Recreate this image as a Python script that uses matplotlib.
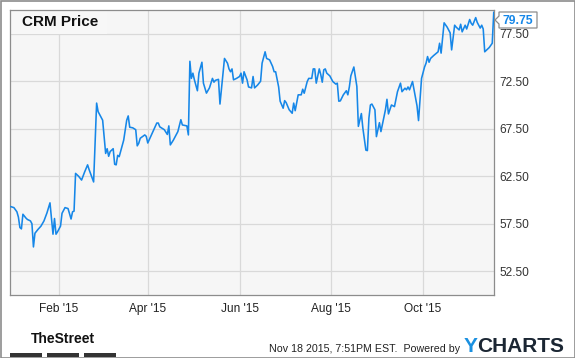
import matplotlib
matplotlib.use("Agg")
import matplotlib.pyplot as plt
from matplotlib.patches import Polygon, Rectangle
import pandas as pd

title = "CRM Price"
last_label = "79.75"
dates = [
    "2014-12-31", "2015-01-02", "2015-01-04", "2015-01-05", "2015-01-06", "2015-01-07",
    "2015-01-08", "2015-01-10", "2015-01-11", "2015-01-13", "2015-01-14", "2015-01-15",
    "2015-01-16", "2015-01-18", "2015-01-20", "2015-01-22", "2015-01-24", "2015-01-26",
    "2015-01-28", "2015-01-29", "2015-01-30", "2015-01-31", "2015-02-02", "2015-02-03",
    "2015-02-05", "2015-02-07", "2015-02-09", "2015-02-10", "2015-02-11", "2015-02-12",
    "2015-02-14", "2015-02-16", "2015-02-18", "2015-02-20", "2015-02-21", "2015-02-24",
    "2015-02-26", "2015-02-27", "2015-03-02", "2015-03-04", "2015-03-05", "2015-03-06",
    "2015-03-07", "2015-03-09", "2015-03-10", "2015-03-11", "2015-03-12", "2015-03-13",
    "2015-03-16", "2015-03-18", "2015-03-19", "2015-03-20", "2015-03-22", "2015-03-24",
    "2015-03-25", "2015-03-26", "2015-03-27", "2015-03-30", "2015-03-31", "2015-04-01",
    "2015-04-03", "2015-04-05", "2015-04-07", "2015-04-08", "2015-04-09", "2015-04-12",
    "2015-04-14", "2015-04-15", "2015-04-16", "2015-04-18", "2015-04-21", "2015-04-23",
    "2015-04-24", "2015-04-27", "2015-04-28", "2015-04-29", "2015-04-30", "2015-05-01",
    "2015-05-02", "2015-05-04", "2015-05-05", "2015-05-07", "2015-05-08", "2015-05-10",
    "2015-05-12", "2015-05-14", "2015-05-15", "2015-05-16", "2015-05-18", "2015-05-19",
    "2015-05-22", "2015-05-24", "2015-05-25", "2015-05-26", "2015-05-27", "2015-05-28",
    "2015-05-30", "2015-06-01", "2015-06-02", "2015-06-03", "2015-06-04", "2015-06-06",
    "2015-06-07", "2015-06-09", "2015-06-10", "2015-06-11", "2015-06-13", "2015-06-15",
    "2015-06-16", "2015-06-18", "2015-06-19", "2015-06-21", "2015-06-23", "2015-06-24",
    "2015-06-25", "2015-06-27", "2015-06-28", "2015-06-30", "2015-07-01", "2015-07-02",
    "2015-07-04", "2015-07-06", "2015-07-07", "2015-07-08", "2015-07-10", "2015-07-12",
    "2015-07-13", "2015-07-14", "2015-07-16", "2015-07-17", "2015-07-19", "2015-07-20",
    "2015-07-21", "2015-07-22", "2015-07-24", "2015-07-25", "2015-07-26", "2015-07-27",
    "2015-07-28", "2015-07-29", "2015-07-31", "2015-08-02", "2015-08-04", "2015-08-05",
    "2015-08-06", "2015-08-07", "2015-08-09", "2015-08-11", "2015-08-12", "2015-08-13",
    "2015-08-14", "2015-08-16", "2015-08-18", "2015-08-19", "2015-08-21", "2015-08-22",
    "2015-08-24", "2015-08-25", "2015-08-26", "2015-08-27", "2015-08-28", "2015-08-30",
    "2015-08-31", "2015-09-02", "2015-09-03", "2015-09-06", "2015-09-07", "2015-09-08",
    "2015-09-10", "2015-09-12", "2015-09-14", "2015-09-16", "2015-09-17", "2015-09-19",
    "2015-09-20", "2015-09-21", "2015-09-22", "2015-09-24", "2015-09-25", "2015-09-27",
    "2015-09-28", "2015-09-30", "2015-10-02", "2015-10-03", "2015-10-04", "2015-10-05",
    "2015-10-06", "2015-10-08", "2015-10-11", "2015-10-12", "2015-10-13", "2015-10-15",
    "2015-10-17", "2015-10-19", "2015-10-20", "2015-10-22", "2015-10-23", "2015-10-25",
    "2015-10-26", "2015-10-27", "2015-10-29", "2015-10-30", "2015-11-01", "2015-11-02",
    "2015-11-03", "2015-11-05", "2015-11-06", "2015-11-08", "2015-11-09", "2015-11-10",
    "2015-11-11", "2015-11-14", "2015-11-16", "2015-11-17",
]
prices = [
    59.3, 59.2, 58.76, 58.2, 57.1, 56.96,
    58.5, 58.1, 57.95, 57.8, 57.5, 55.06,
    56.5, 56.9, 57.25, 57.8, 58.65, 59.7,
    56.4, 58.05, 56.4, 56.65, 57.25, 58.6,
    59.2, 59.1, 58.0, 58.76, 58.83, 62.8,
    62.5, 62.1, 62.94, 63.7, 63.2, 61.9,
    70.2, 69.3, 68.4, 64.9, 65.4, 64.6,
    65.1, 65.4, 63.76, 63.7, 64.7, 64.56,
    66.3, 68.4, 68.85, 67.66, 67.6, 67.4,
    65.7, 65.97, 66.5, 66.85, 66.7, 66.0,
    66.7, 67.4, 68.1, 68.1, 67.7, 67.4,
    66.9, 67.8, 65.8, 66.3, 67.2, 68.45,
    67.9, 67.8, 66.85, 74.6, 72.8, 73.35,
    72.65, 71.5, 73.35, 74.5, 72.3, 71.25,
    71.8, 72.8, 72.4, 72.6, 72.7, 70.1,
    74.9, 74.4, 73.8, 73.5, 73.8, 72.65,
    72.8, 73.0, 73.35, 72.3, 73.5, 72.65,
    71.9, 71.8, 73.0, 71.8, 72.1, 72.5,
    74.4, 75.6, 74.9, 74.75, 74.05, 73.5,
    73.5, 71.9, 70.4, 69.66, 70.46, 70.25,
    69.5, 69.13, 70.2, 69.4, 71.07, 71.07,
    71.66, 71.24, 72.47, 72.8, 72.8, 73.8,
    73.8, 72.3, 73.8, 73.2, 72.4, 73.7,
    73.8, 73.35, 73.07, 72.47, 72.2, 72.3,
    70.4, 70.43, 71.07, 71.5, 71.07, 71.9,
    73.07, 74.0, 71.95, 67.75, 69.1, 67.55,
    65.25, 65.2, 68.6, 70.0, 70.1, 69.5,
    66.67, 68.14, 67.2, 69.5, 70.6, 69.06,
    70.0, 69.83, 71.4, 72.3, 71.4, 71.77,
    71.6, 71.9, 71.6, 72.47, 71.6, 69.9,
    68.36, 72.8, 74.0, 74.4, 75.1, 74.5,
    74.9, 75.2, 75.6, 76.5, 75.46, 78.65,
    78.2, 77.6, 75.8, 78.4, 78.2, 77.9,
    78.5, 77.7, 78.4, 78.0, 79.0, 78.6,
    78.4, 79.2, 78.7, 78.1, 78.4, 78.0,
    75.6, 76.05, 76.5, 79.75,
]
y_ticks = [52.5, 57.5, 62.5, 67.5, 72.5, 77.5]
x_ticks = ["2015-02-01", "2015-04-01", "2015-06-01", "2015-08-01", "2015-10-01"]
x_tick_labels = ["Feb '15", "Apr '15", "Jun '15", "Aug '15", "Oct '15"]
footer_text = "Nov 18 2015, 7:51PM EST.  Powered by"

W, H = 575, 358
plt.rcParams['font.family'] = ['Liberation Sans', 'DejaVu Sans']
fig = plt.figure(figsize=(W / 100, H / 100), dpi=100)
fig.patch.set_facecolor('white')

def fx(px):
    return px / W

def fy(py):
    return 1 - py / H

L, R, T, B = 10, 494, 10, 295
ax = fig.add_axes([fx(L), fy(B), (R - L) / W, (B - T) / H])
ax.set_facecolor('#f6f6f6')
d = pd.to_datetime(dates)
ax.plot(d, prices, color='#1687e8', lw=1.15, zorder=3, solid_joinstyle='round')
ax.set_ylim(50, 80)
ax.set_xlim(pd.Timestamp("2014-12-30 10:00"), pd.Timestamp("2015-11-17 04:00"))
ax.set_yticks(y_ticks)
ax.set_yticklabels([f"{v:.2f}" for v in y_ticks])
ax.set_xticks(pd.to_datetime(x_ticks))
ax.set_xticklabels(x_tick_labels)
ax.yaxis.tick_right()
ax.tick_params(axis='y', length=0, pad=4, labelsize=8.6, labelcolor='#333333')
ax.tick_params(axis='x', length=0, pad=5.5, labelsize=8.6, labelcolor='#222222')
ax.grid(True, color='#d9d9d9', lw=0.9, zorder=1)
ax.set_axisbelow(True)
for s in ax.spines.values():
    s.set_color('#8c8c8c')
    s.set_linewidth(0.9)

# title box
ax.add_patch(Rectangle((0, 1 - 24 / (B - T)), (107 - L) / (R - L), 24 / (B - T),
                       transform=ax.transAxes, facecolor='#f7f7f7', edgecolor='none', zorder=2))
ax.text(12 / (R - L), 1 - 12 / (B - T), title, transform=ax.transAxes, fontsize=11,
        fontweight='bold', color='#111111', va='center', ha='left', zorder=4)

# last value marker
pts = [(495, 20), (499, 16), (499, 12), (537, 12), (537, 28), (499, 28), (499, 24)]
fig.patches.append(Polygon([(fx(x), fy(y)) for x, y in pts], closed=True,
                           transform=fig.transFigure, facecolor='white',
                           edgecolor='#8c8c8c', lw=0.9, zorder=5))
fig.text(fx(518), fy(20.5), last_label, fontsize=8.8, fontweight='bold', color='#1687e8',
         ha='center', va='center', zorder=6)

# outer frame
fig.patches.append(Rectangle((fx(0.5), fy(357.5)), fx(574), 1 - 2 * 0.5 / H,
                             transform=fig.transFigure, facecolor='none',
                             edgecolor='#8c8c8c', lw=1.2))

# footer: TheStreet logo
fig.text(fx(63), fy(339), "TheStreet", fontsize=10, fontweight='bold', color='#111111',
         ha='center', va='center', family=['Liberation Sans Narrow', 'Liberation Sans'])
for x0, x1 in [(10, 42), (47, 79), (84, 116)]:
    fig.patches.append(Rectangle((fx(x0), fy(356.5)), fx(x1 - x0), 3.5 / H,
                                 transform=fig.transFigure, facecolor='#333333',
                                 edgecolor='none'))

fig.text(fx(460), fy(349), footer_text, fontsize=7.7, color='#222222', ha='right', va='center')
charts = fig.text(fx(564), fy(347), "CHARTS", fontsize=15, fontweight='bold', color='#1b2633',
                  ha='right', va='center')
fig.canvas.draw()
bb = charts.get_window_extent(renderer=fig.canvas.get_renderer())
fig.text(bb.x0 / W + fx(0.5), fy(347), "Y", fontsize=15, fontweight='bold', color='#1a90e0',
         ha='right', va='center')

fig.savefig("out.png", dpi=100, facecolor='white')
